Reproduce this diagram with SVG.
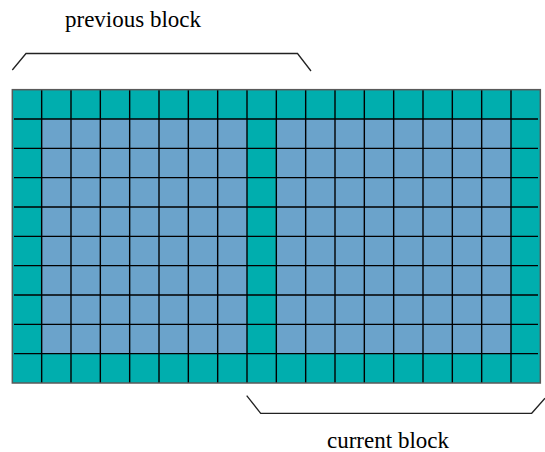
<svg xmlns="http://www.w3.org/2000/svg" width="545" height="452" viewBox="0 0 545 452">
<style>
.teal{fill:#00AEAE}
.blue{fill:#6BA3CB}
.grid{fill:none;stroke:#000;stroke-width:1.4}
.border{fill:none;stroke:#5a5a5a;stroke-width:1.5}
.bracket{fill:none;stroke:#222;stroke-width:1.3}
.lbl{font-family:"Liberation Serif","Times New Roman",serif;font-size:23px;fill:#000}
</style>
<rect width="545" height="452" fill="#fff"/>
<g id="grid">
<rect class="teal" x="12.33" y="89.67" width="528" height="293.33"/>
<rect class="blue" x="41.67" y="119" width="205.33" height="234.67"/>
<rect class="blue" x="276.33" y="119" width="234.67" height="234.67"/>
<path class="grid" d="M41.67 89.67V383M71 89.67V383M100.33 89.67V383M129.67 89.67V383M159 89.67V383M188.33 89.67V383M217.67 89.67V383M247 89.67V383M276.33 89.67V383M305.67 89.67V383M335 89.67V383M364.33 89.67V383M393.67 89.67V383M423 89.67V383M452.33 89.67V383M481.67 89.67V383M511 89.67V383"/>
<path class="grid" d="M14 119H538M14 148.33H538M14 177.67H538M14 207H538M14 236.33H538M14 265.67H538M14 295H538M14 324.33H538M14 353.67H538"/>
<rect class="border" x="12.33" y="89.67" width="528" height="293.33"/>
</g>
<g id="connectors">
<path id="bracket-previous" class="bracket" d="M12.3 70L26 53.5H297.5L311 71"/>
<path id="bracket-current" class="bracket" d="M246.7 395.7L260.7 413.3H531.7L545 398.3"/>
</g>
<g id="label-previous"><text class="lbl" x="65" y="26.7">previous block</text></g>
<g id="label-current"><text class="lbl" x="327" y="448">current block</text></g>
</svg>
